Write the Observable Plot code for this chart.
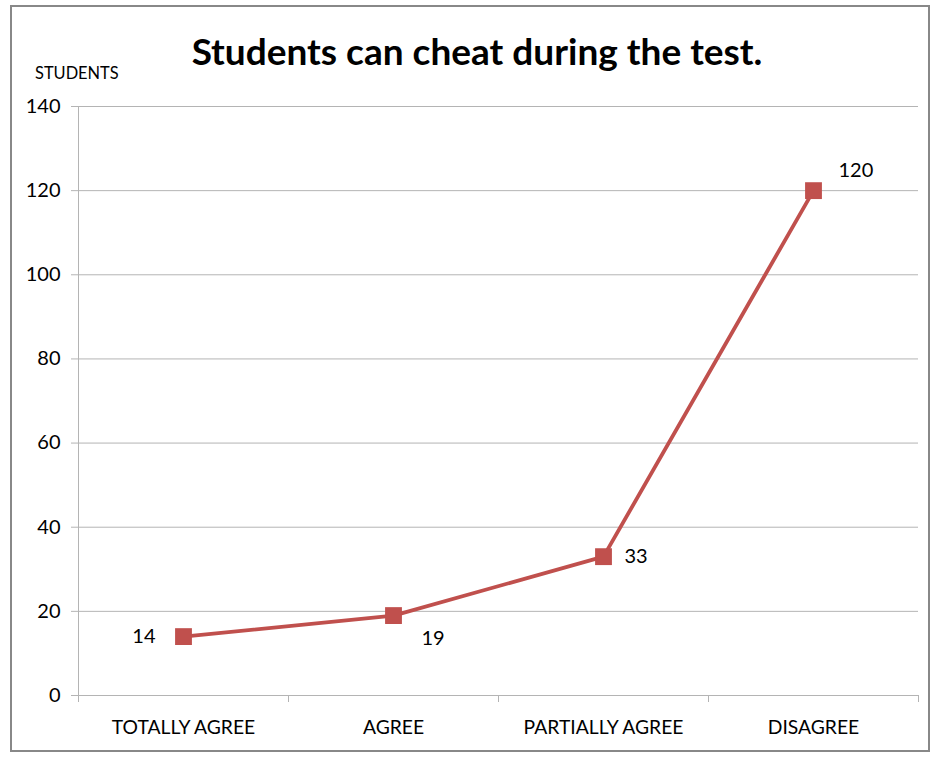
<!DOCTYPE html>
<html><head><meta charset="utf-8">
<script src="https://cdn.jsdelivr.net/npm/d3@7"></script>
<script src="https://cdn.jsdelivr.net/npm/@observablehq/plot@0.6"></script>
<style>
body{margin:0;background:#fff;font-family:Lato,sans-serif;color:#000}
#wrap{position:relative;width:932px;height:757px;overflow:hidden}
#border{position:absolute;left:10px;top:5px;width:916px;height:743px;border:2px solid #888;box-sizing:content-box}
#title{position:absolute;left:0;width:954px;top:29px;text-align:center;font-weight:bold;font-size:37px;line-height:44px}
#ylab{position:absolute;left:35px;top:63px;font-size:16.4px;line-height:20px}
#chart{position:absolute;left:0;top:0}
</style></head>
<body>
<div id="wrap">
<div id="border"></div>
<div id="chart"></div>
<div id="title">Students can cheat during the test.</div>
<div id="ylab">STUDENTS</div>
</div>
<script>
const categories = ["TOTALLY AGREE", "AGREE", "PARTIALLY AGREE", "DISAGREE"];
const values = [14, 19, 33, 120];
const yTicks = [0, 20, 40, 60, 80, 100, 120, 140];

const data = categories.map((c, i) => ({cat: c, i, value: values[i]}));
const pos = d => d.i + 0.5;
const grid = "#b4b4b4";
const red = "#c0504d";

const chart = Plot.plot({
  width: 932,
  height: 757,
  marginTop: 106,
  marginBottom: 62,
  marginLeft: 78,
  marginRight: 14,
  style: {fontFamily: "Lato, sans-serif", color: "#000", background: "transparent"},
  x: {type: "linear", domain: [0, categories.length]},
  y: {domain: [0, 140]},
  marks: [
    Plot.ruleY(yTicks, {stroke: grid, strokeWidth: 1}),
    Plot.ruleX([0], {stroke: grid, strokeWidth: 1}),
    Plot.axisY({ticks: yTicks, tickSize: 7, tickPadding: 11, stroke: grid, fill: "#000", fontSize: 20, label: null, tickFormat: d => String(d)}),
    Plot.axisX({ticks: d3.range(0, categories.length + 1), tickSize: 7, stroke: grid, tickFormat: () => "", label: null}),
    Plot.axisX({ticks: categories.map((c, i) => i + 0.5), tickSize: 0, tickPadding: 25, fill: "#000", fontSize: 19.3, label: null, tickFormat: d => categories[Math.round(d - 0.5)]}),
    Plot.line(data, {x: pos, y: "value", stroke: red, strokeWidth: 3.8}),
    Plot.dot(data, {x: pos, y: "value", symbol: "square", r: 9.5, fill: red, stroke: null}),
    Plot.text(data.filter(d => d.i === 0), {x: pos, y: "value", text: d => String(d.value), dx: -28, textAnchor: "end", fontSize: 20, fill: "#000"}),
    Plot.text(data.filter(d => d.i === 1), {x: pos, y: "value", text: d => String(d.value), dx: 28, dy: 23, textAnchor: "start", fontSize: 20, fill: "#000"}),
    Plot.text(data.filter(d => d.i === 2), {x: pos, y: "value", text: d => String(d.value), dx: 21, textAnchor: "start", fontSize: 20, fill: "#000"}),
    Plot.text(data.filter(d => d.i === 3), {x: pos, y: "value", text: d => String(d.value), dx: 25, dy: -20, textAnchor: "start", fontSize: 20, fill: "#000"})
  ]
});
document.getElementById("chart").appendChild(chart);
</script>
</body></html>
